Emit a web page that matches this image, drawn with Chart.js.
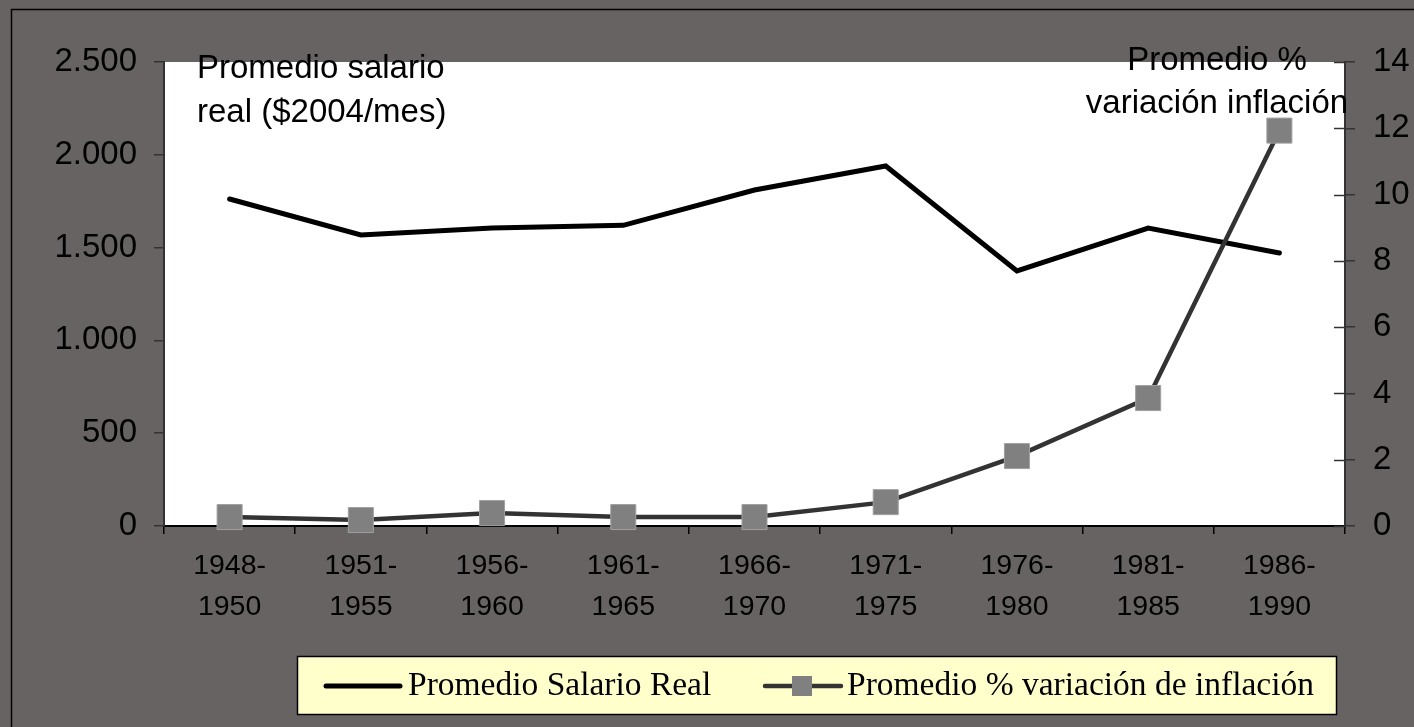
<!DOCTYPE html>
<html>
<head>
<meta charset="utf-8">
<title>Salario real e inflación</title>
<script src="https://cdn.jsdelivr.net/npm/chart.js@4/dist/chart.umd.min.js"></script>
<style>
  html, body { margin: 0; padding: 0; background: #676362; overflow: hidden; }
  canvas { display: block; }
</style>
</head>
<body>
<canvas id="chart" width="1414" height="727"></canvas>
<script>
const periods = [
  ["1948-", "1950"],
  ["1951-", "1955"],
  ["1956-", "1960"],
  ["1961-", "1965"],
  ["1966-", "1970"],
  ["1971-", "1975"],
  ["1976-", "1980"],
  ["1981-", "1985"],
  ["1986-", "1990"],
];
const salarioReal = [1762, 1568, 1605, 1620, 1810, 1940, 1374, 1605, 1471];
const inflacion = [0.27, 0.18, 0.39, 0.27, 0.27, 0.72, 2.11, 3.86, 11.93];
const salarioTicks = [0, 500, 1000, 1500, 2000, 2500];
const inflacionTicks = [0, 2, 4, 6, 8, 10, 12, 14];
const legendLabels = ["Promedio Salario Real", "Promedio % variación de inflación"];

const sansFont = "'Liberation Sans', Arial, sans-serif";
const serifFont = "'Liberation Serif', 'Times New Roman', serif";

function formatMiles(value) {
  return String(value).replace(/\B(?=(\d{3})+(?!\d))/g, ".");
}

const backgroundPlugin = {
  id: "background",
  beforeDraw(chart) {
    const { ctx, chartArea } = chart;
    ctx.save();
    ctx.fillStyle = "#676362";
    ctx.fillRect(0, 0, chart.width, chart.height);
    ctx.strokeStyle = "#000";
    ctx.lineWidth = 1.5;
    ctx.strokeRect(11.5, 9.5, chart.width + 20, chart.height + 20);
    ctx.fillStyle = "#fff";
    ctx.fillRect(chartArea.left, chartArea.top, chartArea.right - chartArea.left, chartArea.bottom - chartArea.top);
    ctx.restore();
  },
};

const decorPlugin = {
  id: "decor",
  afterDraw(chart) {
    const { ctx, chartArea } = chart;
    const y2 = chart.scales.y2;
    ctx.save();

    // right axis ticks cross the axis line
    ctx.strokeStyle = "#333";
    ctx.lineWidth = 1.5;
    for (const t of inflacionTicks) {
      const py = Math.round(y2.getPixelForValue(t)) + 0.5;
      ctx.beginPath();
      ctx.moveTo(chartArea.right - 11, py);
      ctx.lineTo(chartArea.right, py);
      ctx.stroke();
    }

    // axis titles inside the plot
    ctx.fillStyle = "#000";
    ctx.font = `33px ${sansFont}`;
    ctx.textBaseline = "alphabetic";
    ctx.textAlign = "left";
    ctx.fillText("Promedio salario", 197, 78);
    ctx.fillText("real ($2004/mes)", 197, 122);
    ctx.textAlign = "center";
    ctx.fillText("Promedio %", 1217, 70);
    ctx.fillText("variación inflación", 1217, 113);

    // legend box
    ctx.fillStyle = "#ffffcc";
    ctx.fillRect(297.5, 656.5, 1039, 58);
    ctx.strokeStyle = "#000";
    ctx.lineWidth = 1.5;
    ctx.strokeRect(297.5, 656.5, 1039, 58);

    ctx.lineCap = "round";
    ctx.strokeStyle = "#000";
    ctx.lineWidth = 5;
    ctx.beginPath();
    ctx.moveTo(326, 686);
    ctx.lineTo(400, 686);
    ctx.stroke();

    ctx.strokeStyle = "#333";
    ctx.lineWidth = 4.5;
    ctx.beginPath();
    ctx.moveTo(765, 686);
    ctx.lineTo(841, 686);
    ctx.stroke();
    ctx.fillStyle = "#808080";
    ctx.fillRect(792, 676, 20, 20);

    ctx.font = `33.5px ${serifFont}`;
    ctx.fillStyle = "#000";
    ctx.textAlign = "left";
    ctx.fillText(legendLabels[0], 408, 695);
    ctx.fillText(legendLabels[1], 847, 695);

    ctx.restore();
  },
};

new Chart(document.getElementById("chart"), {
  type: "line",
  data: {
    labels: periods,
    datasets: [
      {
        label: legendLabels[0],
        data: salarioReal,
        yAxisID: "y",
        borderColor: "#000",
        borderWidth: 5,
        borderCapStyle: "round",
        pointRadius: 0,
        tension: 0,
        order: 1,
      },
      {
        label: legendLabels[1],
        data: inflacion,
        yAxisID: "y2",
        borderColor: "#333",
        borderWidth: 4.5,
        pointStyle: "rect",
        pointRadius: 17.7,
        pointBackgroundColor: "#808080",
        pointBorderColor: "#a0a0a0",
        pointBorderWidth: 1,
        tension: 0,
        clip: false,
        order: 0,
      },
    ],
  },
  options: {
    responsive: false,
    animation: false,
    devicePixelRatio: 1,
    events: [],
    layout: { padding: { top: 62, left: 0, right: 0, bottom: 0 } },
    plugins: {
      legend: { display: false },
      tooltip: { enabled: false },
    },
    scales: {
      x: {
        type: "category",
        offset: true,
        grid: { offset: true, drawOnChartArea: false, tickLength: 8, color: "#000", lineWidth: 1.5 },
        border: { color: "#000", width: 2 },
        ticks: {
          color: "#000",
          font: { family: sansFont, size: 28.5, lineHeight: 1.42 },
          padding: 12,
          maxRotation: 0,
          autoSkip: false,
        },
        afterFit: (scale) => { scale.height = 201; },
      },
      y: {
        position: "left",
        min: 0,
        max: 2500,
        afterBuildTicks: (scale) => { scale.ticks = salarioTicks.map((v) => ({ value: v })); },
        grid: { drawOnChartArea: false, tickLength: 10, color: "#333", lineWidth: 1.5 },
        border: { color: "#333", width: 2 },
        ticks: {
          color: "#000",
          font: { family: sansFont, size: 33 },
          padding: 17,
          callback: (value) => formatMiles(value),
        },
        afterFit: (scale) => { scale.width = 164; },
      },
      y2: {
        position: "right",
        min: 0,
        max: 14,
        afterBuildTicks: (scale) => { scale.ticks = inflacionTicks.map((v) => ({ value: v })); },
        grid: { drawOnChartArea: false, tickLength: 10, color: "#333", lineWidth: 1.5 },
        border: { color: "#333", width: 2 },
        ticks: {
          color: "#000",
          font: { family: sansFont, size: 33 },
          padding: 18,
        },
        afterFit: (scale) => { scale.width = 69; },
      },
    },
  },
  plugins: [backgroundPlugin, decorPlugin],
});
</script>
</body>
</html>
